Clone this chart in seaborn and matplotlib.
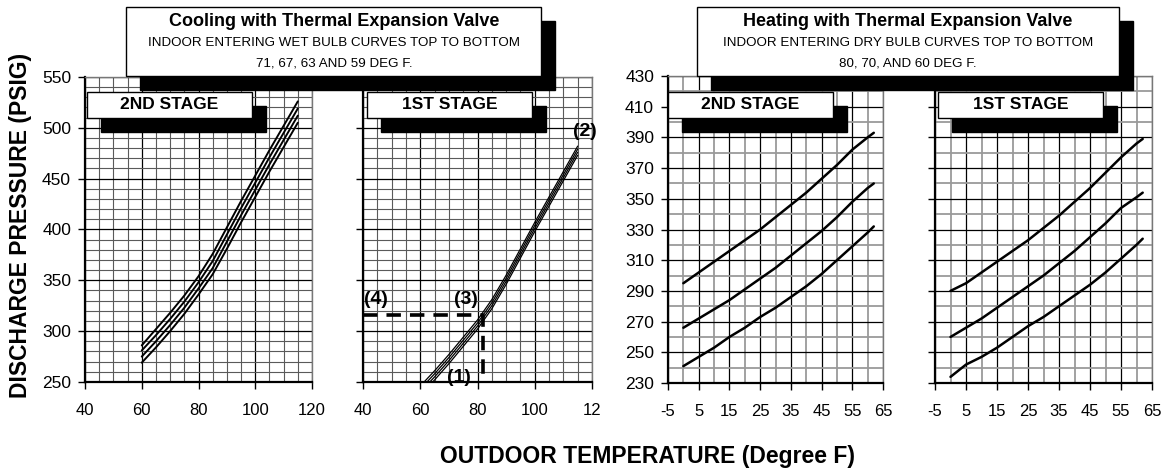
import numpy as np
import pandas as pd
import seaborn as sns
import matplotlib.pyplot as plt
from matplotlib.patches import Rectangle

# ---- data ----
# cooling, outdoor temp (F) vs discharge pressure, wet bulb 71/67/63/59
cool_temp = [60, 65, 70, 75, 80, 85, 90, 95, 100, 105, 110, 115]
cool2_71 = [286, 302, 318, 335, 354, 376, 402, 428, 453, 478, 502, 526]
cool2_67 = [281, 296, 312, 329, 348, 369, 395, 421, 446, 471, 495, 519]
cool2_63 = [275, 290, 306, 323, 342, 362, 388, 414, 439, 464, 488, 512]
cool2_59 = [269, 284, 300, 317, 336, 356, 381, 407, 432, 457, 481, 505]

cool1_71 = [246, 261, 277, 294, 311, 331, 355, 381, 407, 432, 457, 482]
cool1_67 = [243, 258, 274, 291, 308, 328, 352, 378, 404, 429, 454, 479]
cool1_63 = [240, 255, 271, 288, 305, 325, 349, 375, 401, 426, 451, 476]
cool1_59 = [237, 252, 268, 285, 302, 322, 346, 372, 398, 423, 448, 473]

# example reading on the 1st stage chart
ex_temp = [40, 82, 82]
ex_press = [316, 316, 257]

# heating, dry bulb 80/70/60
heat_temp = [0, 5, 10, 15, 20, 25, 30, 35, 40, 45, 50, 55, 60, 62]
heat2_80 = [295, 302, 309, 316, 323, 330, 338, 346, 354, 363, 372, 382, 390, 393]
heat2_70 = [266, 272, 278, 284, 291, 298, 305, 313, 321, 329, 338, 348, 357, 360]
heat2_60 = [241, 247, 253, 260, 266, 273, 279, 286, 293, 301, 310, 319, 328, 332]

heat1_80 = [290, 295, 302, 309, 316, 323, 331, 339, 348, 357, 367, 377, 386, 389]
heat1_70 = [260, 266, 272, 279, 286, 293, 300, 308, 316, 325, 334, 344, 351, 354]
heat1_60 = [234, 242, 247, 253, 260, 267, 273, 280, 287, 294, 302, 311, 320, 324]

cool_xticks = [40, 60, 80, 100, 120]
cool_yticks = [250, 300, 350, 400, 450, 500, 550]
heat_xticks = [-5, 5, 15, 25, 35, 45, 55, 65]
heat_yticks = [230, 250, 270, 290, 310, 330, 350, 370, 390, 410, 430]

sns.set_style('white')
plt.rcParams['font.family'] = ['Liberation Sans', 'DejaVu Sans']
for k in ['text.color', 'axes.labelcolor', 'xtick.color', 'ytick.color']:
    plt.rcParams[k] = 'black'
narrow = ['Liberation Sans Narrow', 'Liberation Sans', 'DejaVu Sans']

W, H = 1171, 470
fig = plt.figure(figsize=(W / 100, H / 100), dpi=100)


def px_axes(x0, y0, x1, y1):
    return fig.add_axes([x0 / W, 1 - y1 / H, (x1 - x0) / W, (y1 - y0) / H])


def style(ax, xlim, ylim, xt, yt, xminor, yminor, xlabels, ylabels, heat):
    ax.set_xlim(xlim)
    ax.set_ylim(ylim)
    ax.set_xticks(xt, xlabels, fontfamily=narrow, fontsize=12)
    if ylabels:
        ax.set_yticks(yt, [str(v) for v in yt], fontsize=12.5)
    else:
        ax.set_yticks(yt, [])
    ax.set_xticks(xminor, minor=True)
    ax.set_yticks(yminor, minor=True)
    ax.tick_params(which='major', direction='out', length=5, width=1, color='k',
                   left=True, bottom=True)
    ax.tick_params(axis='x', pad=10)
    ax.tick_params(axis='y', pad=5)
    ax.tick_params(which='minor', length=0)
    ax.set_axisbelow(True)
    ax.grid(which='major', color='k', lw=0.9)
    ax.grid(which='minor', color='#9a9a9a' if heat else '#5a5a5a', lw=1.3 if heat else 0.8)
    for s in ['left', 'bottom']:
        ax.spines[s].set_color('k')
        ax.spines[s].set_linewidth(1.6)
    for s in ['top', 'right']:
        ax.spines[s].set_color('#777777')
        ax.spines[s].set_linewidth(1.0)
    ax.set_xlabel('')
    ax.set_ylabel('')


# ---- cooling panels ----
ax1 = px_axes(85, 77, 312, 382)
ax2 = px_axes(363, 77, 592, 382)
for c in [cool2_71, cool2_67, cool2_63, cool2_59]:
    sns.lineplot(x=cool_temp, y=c, ax=ax1, color='k', lw=1.4)
for c in [cool1_71, cool1_67, cool1_63, cool1_59]:
    sns.lineplot(x=cool_temp, y=c, ax=ax2, color='k', lw=0.9)
sns.lineplot(x=ex_temp, y=ex_press, ax=ax2, color='k', lw=2.6, sort=False,
             estimator=None, linestyle=(0, (4, 2.5)))

c_minor_x = np.arange(40, 121, 5)
c_minor_y = np.arange(250, 551, 10)
style(ax1, (40, 120), (250, 550), cool_xticks, cool_yticks, c_minor_x, c_minor_y,
      [str(v) for v in cool_xticks], True, False)
style(ax2, (40, 120), (250, 550), cool_xticks, cool_yticks, c_minor_x, c_minor_y,
      ['40', '60', '80', '100', '12'], False, False)

# ---- heating panels ----
ax3 = px_axes(668, 76, 883, 383)
ax4 = px_axes(935, 76, 1152, 383)
for ax, curves in [(ax3, [heat2_80, heat2_70, heat2_60]),
                   (ax4, [heat1_80, heat1_70, heat1_60])]:
    for c in curves:
        sns.lineplot(x=heat_temp, y=c, ax=ax, color='k', lw=1.8)

h_minor_x = np.arange(0, 61, 10)
h_minor_y = np.arange(240, 421, 20)
style(ax3, (-5, 65), (230, 430), heat_xticks, heat_yticks, h_minor_x, h_minor_y,
      [str(v) for v in heat_xticks], True, True)
style(ax4, (-5, 65), (230, 430), heat_xticks, heat_yticks, h_minor_x, h_minor_y,
      [str(v) for v in heat_xticks], False, True)


# ---- boxes with drop shadows ----
def box(x0, y0, x1, y1, dx, dy, z=5):
    fig.add_artist(Rectangle(((x0 + dx) / W, 1 - (y1 + dy) / H), (x1 - x0) / W, (y1 - y0) / H,
                             transform=fig.transFigure, facecolor='k', edgecolor='k', zorder=z))
    fig.add_artist(Rectangle((x0 / W, 1 - y1 / H), (x1 - x0) / W, (y1 - y0) / H,
                             transform=fig.transFigure, facecolor='white', edgecolor='k',
                             lw=1.0, zorder=z + 1))


def ftext(x, y, s, **kw):
    fig.text(x / W, 1 - y / H, s, ha='center', va='center', zorder=10, **kw)


box(126, 7, 541, 76, 14, 14)
ftext(334, 22, 'Cooling with Thermal Expansion Valve', fontsize=13, fontweight='bold')
ftext(334, 43, 'INDOOR ENTERING WET BULB CURVES TOP TO BOTTOM', fontsize=9.6)
ftext(334, 63, '71, 67, 63 AND 59 DEG F.', fontsize=9.6)

box(697, 7, 1119, 76, 14, 14)
ftext(908, 22, 'Heating with Thermal Expansion Valve', fontsize=13, fontweight='bold')
ftext(908, 43, 'INDOOR ENTERING DRY BULB CURVES TOP TO BOTTOM', fontsize=9.6)
ftext(908, 63, '80, 70, AND 60 DEG F.', fontsize=9.6)

for x0, x1, label in [(87, 252, '2ND STAGE'), (367, 532, '1ST STAGE'),
                      (668, 833, '2ND STAGE'), (938, 1103, '1ST STAGE')]:
    box(x0, 92, x1, 118, 14, 14)
    ftext((x0 + x1) / 2, 105, label, fontsize=12.5, fontweight='bold')

# reading markers
for x, y, s in [(585, 131, '(2)'), (376, 300, '(4)'), (466, 300, '(3)'), (459, 377, '(1)')]:
    ftext(x, y, s, fontsize=14, fontweight='bold', family=narrow)

ftext(21, 225, 'DISCHARGE PRESSURE (PSIG)', fontsize=16.5, fontweight='bold', rotation=90)
ftext(647, 456, 'OUTDOOR TEMPERATURE (Degree F)', fontsize=16.5, fontweight='bold')

plt.savefig('out.png', dpi=100)
